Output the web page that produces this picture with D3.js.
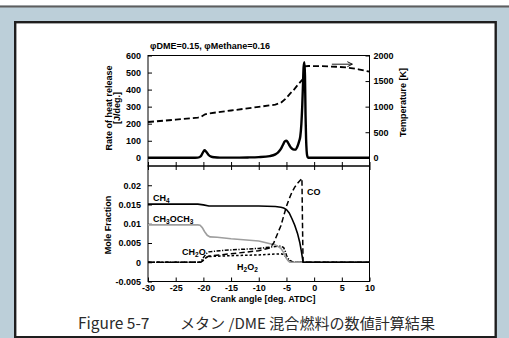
<!DOCTYPE html>
<html><head><meta charset="utf-8">
<script src="https://cdn.jsdelivr.net/npm/d3@7"></script>
<style>body{margin:0;background:#fff}svg{display:block}</style>
</head><body>
<svg id="c" width="509" height="338"></svg>
<script>
// ---------- data ----------
const title = "\u03c6DME=0.15, \u03c6Methane=0.16";
const crankTicks = [-30, -25, -20, -15, -10, -5, 0, 5, 10];
const crankTickLabels = ["-30", "-25", "-20", "-15", "-10", "-5", "0", "5", "10"];
const hrrTicks = [0, 100, 200, 300, 400, 500, 600];
const hrrTickLabels = ["0", "100", "200", "300", "400", "500", "600"];
const tempTicks = [0, 500, 1000, 1500, 2000];
const tempTickLabels = ["0", "500", "1000", "1500", "2000"];
const moleTicks = [-0.005, 0, 0.005, 0.01, 0.015, 0.02];
const moleTickLabels = ["-0.005", "0", "0.005", "0.01", "0.015", "0.02"];

// rate of heat release [J/deg.]
const hrrAngle = [-30, -22, -21, -20.5, -20.1, -19.8, -19.5, -19.1, -18.6, -18, -17, -15, -12, -10, -8, -7, -6.5, -6, -5.6, -5.3, -5.0, -4.7, -4.4, -4.1, -3.8, -3.4, -3.0, -2.7, -2.5, -2.3, -2.15, -2.0, -1.9, -1.75, -1.65, -1.55, -1.45, -1.35, -1.25, -1.1, 0, 10];
const hrrValue = [0, 0, 1, 8, 30, 44, 36, 18, 7, 3, 1, 1, 2, 4, 10, 20, 32, 52, 78, 96, 100, 88, 70, 57, 50, 48, 68, 98, 125, 200, 300, 440, 530, 560, 480, 250, 110, 40, 12, 0, 0, 0];

// temperature [K]
const tempAngle = [-30, -25, -21, -20.5, -19.7, -19, -15, -10, -7, -6, -5, -4.3, -3.7, -3, -2.2, -1.9, -1.75, -1, 1, 4, 6, 8, 10];
const tempValue = [700, 745, 785, 795, 850, 868, 925, 995, 1040, 1075, 1170, 1260, 1325, 1420, 1520, 1560, 1790, 1795, 1792, 1780, 1765, 1730, 1685];

// mole fractions
const ch4Angle = [-30, -21, -20, -19, -15, -10, -7, -6, -5.5, -5, -4.5, -4, -3.5, -3, -2.6, -2.3, -2.1, -2.0, 10];
const ch4Value = [0.0151, 0.0151, 0.0149, 0.0146, 0.0146, 0.0146, 0.0145, 0.0143, 0.0141, 0.0137, 0.0128, 0.0113, 0.0096, 0.0075, 0.0052, 0.0028, 0.0010, 0, 0];

const dmeAngle = [-30, -21, -20.6, -20.2, -19.8, -19.3, -18.8, -17.5, -15, -10, -7, -6, -5.5, -5, -4.7, -4.4, 10];
const dmeValue = [0.0097, 0.0097, 0.0096, 0.0090, 0.0080, 0.0070, 0.0066, 0.0065, 0.0061, 0.0055, 0.0045, 0.0036, 0.0025, 0.0010, 0.0004, 0, 0];

const coAngle = [-30, -20.5, -20, -19.5, -19, -15, -10, -8, -7.3, -6.5, -6, -5.5, -5, -4.5, -4, -3.5, -3, -2.5, -2.2, -2.1, -2.0, 10];
const coValue = [0, 0, 0.0005, 0.0012, 0.0016, 0.0022, 0.0030, 0.0037, 0.0050, 0.0078, 0.0095, 0.0120, 0.0145, 0.0165, 0.0182, 0.0195, 0.0205, 0.0213, 0.0218, 0.0100, 0, 0];

const ch2oAngle = [-30, -20.5, -20, -19.5, -19, -17, -15, -10, -7, -6, -5.5, -5.2, -5, -4.7, -4.4, -4, -3.5, 10];
const ch2oValue = [0, 0, 0.0012, 0.0022, 0.0027, 0.0030, 0.0032, 0.0036, 0.0041, 0.0042, 0.0038, 0.0028, 0.0018, 0.0010, 0.0005, 0.0002, 0, 0];

const h2o2Angle = [-30, -20.5, -20, -19.5, -19, -15, -10, -6, -5.5, -5, -4.7, -4.4, -4, 10];
const h2o2Value = [0, 0, 0.0006, 0.0012, 0.0015, 0.0017, 0.0019, 0.0022, 0.0020, 0.0012, 0.0006, 0.0002, 0, 0];

// ---------- drawing ----------
const svg = d3.select("#c");
const FONT = "'Liberation Sans', Arial, sans-serif";

// page background
svg.append("rect").attr("width", 509).attr("height", 338).attr("fill", "#bccfd9");
svg.append("rect").attr("width", 509).attr("height", 5.5).attr("fill", "#ffffff");
svg.append("rect").attr("y", 5.5).attr("width", 509).attr("height", 2).attr("fill", "#5e5e5e");
svg.append("rect").attr("x", 15.2).attr("y", 22.2).attr("width", 480.5).attr("height", 315)
  .attr("fill", "#fff").attr("stroke", "#1e1e1e").attr("stroke-width", 2.4);

const L = 148, R = 369.5;
const T1 = 55.5, B1 = 166, T2 = 166, B2 = 281.5;

const x = d3.scaleLinear().domain([-30, 10]).range([L, R]);
const yH = d3.scaleLinear().domain([0, 600]).range([157.8, 55.5]);
const yT = d3.scaleLinear().domain([0, 2000]).range([157.8, 55.5]);
const yM = d3.scaleLinear().domain([-0.005, 0.025]).range([B2, T2]);

function styleAxis(g) {
  g.selectAll("path").attr("stroke", "#000").attr("stroke-width", 1);
  g.selectAll("line").attr("stroke", "#000").attr("stroke-width", 1);
  g.selectAll("text").attr("font-family", FONT).attr("font-weight", "bold").attr("font-size", 9).attr("fill", "#000");
}
const lab = arr => (d, i) => arr[i];

// frames
svg.append("rect").attr("x", L).attr("y", T1).attr("width", R - L).attr("height", B1 - T1)
  .attr("fill", "none").attr("stroke", "#000").attr("stroke-width", 1);
svg.append("rect").attr("x", L).attr("y", T2).attr("width", R - L).attr("height", B2 - T2)
  .attr("fill", "none").attr("stroke", "#000").attr("stroke-width", 1);

// top panel axes
svg.append("g").attr("transform", `translate(${L},0)`)
  .call(d3.axisLeft(yH).tickValues(hrrTicks).tickFormat(lab(hrrTickLabels)).tickSize(-4).tickPadding(7).tickSizeOuter(0))
  .call(styleAxis).call(g => g.select("path").remove());
svg.append("g").attr("transform", `translate(${R},0)`)
  .call(d3.axisRight(yT).tickValues(tempTicks).tickFormat(lab(tempTickLabels)).tickSize(-4).tickPadding(4).tickSizeOuter(0))
  .call(styleAxis).call(g => g.select("path").remove());
svg.append("g").attr("transform", `translate(0,${B1})`)
  .call(d3.axisBottom(x).tickValues(crankTicks).tickSize(-4).tickFormat("").tickSizeOuter(0))
  .call(styleAxis).call(g => g.select("path").remove());

// bottom panel axes
svg.append("g").attr("transform", `translate(${L},0)`)
  .call(d3.axisLeft(yM).tickValues(moleTicks).tickSize(-4).tickPadding(7).tickSizeOuter(0)
    .tickFormat(lab(moleTickLabels)))
  .call(styleAxis).call(g => g.select("path").remove());
svg.append("g").attr("transform", `translate(0,${T2})`)
  .call(d3.axisTop(x).tickValues(crankTicks).tickSize(-4).tickFormat("").tickSizeOuter(0))
  .call(styleAxis).call(g => g.select("path").remove());
svg.append("g").attr("transform", `translate(0,${B2})`)
  .call(d3.axisBottom(x).tickValues(crankTicks).tickFormat(lab(crankTickLabels)).tickSize(-4).tickPadding(3.5).tickSizeOuter(0))
  .call(styleAxis).call(g => g.select("path").remove());

// clip
svg.append("clipPath").attr("id", "cp1").append("rect").attr("x", L).attr("y", T1 - 2).attr("width", R - L).attr("height", B1 - T1 + 2);
svg.append("clipPath").attr("id", "cp2").append("rect").attr("x", L).attr("y", T2).attr("width", R - L).attr("height", B2 - T2);

function series(a, v) { return a.map((d, i) => [d, v[i]]); }

const gTop = svg.append("g").attr("clip-path", "url(#cp1)");
gTop.append("path").datum(series(tempAngle, tempValue))
  .attr("d", d3.line().x(d => x(d[0])).y(d => yT(d[1])))
  .attr("fill", "none").attr("stroke", "#000").attr("stroke-width", 1.8).attr("stroke-dasharray", "6,3");
gTop.append("path").datum(series(hrrAngle, hrrValue))
  .attr("d", d3.line().curve(d3.curveMonotoneX).x(d => x(d[0])).y(d => yH(d[1])))
  .attr("fill", "none").attr("stroke", "#000").attr("stroke-width", 2.4).attr("stroke-linejoin", "round");

// arrow toward right axis
const arrowY = yT(1830);
svg.append("line").attr("x1", x(3.2)).attr("x2", x(6.9)).attr("y1", arrowY).attr("y2", arrowY)
  .attr("stroke", "#000").attr("stroke-width", 0.9);
svg.append("path").attr("d", `M${x(6.9) - 5},${arrowY - 2.5}L${x(6.9)},${arrowY}L${x(6.9) - 5},${arrowY + 2.5}`)
  .attr("fill", "none").attr("stroke", "#000").attr("stroke-width", 0.9);

const gBot = svg.append("g").attr("clip-path", "url(#cp2)");
const lineM = d3.line().x(d => x(d[0])).y(d => yM(d[1]));
gBot.append("path").datum(series(h2o2Angle, h2o2Value)).attr("d", lineM)
  .attr("fill", "none").attr("stroke", "#000").attr("stroke-width", 1.5).attr("stroke-dasharray", "2.5,2");
gBot.append("path").datum(series(ch2oAngle, ch2oValue)).attr("d", lineM)
  .attr("fill", "none").attr("stroke", "#000").attr("stroke-width", 1.5).attr("stroke-dasharray", "4,1.5,1.2,1.5");
gBot.append("path").datum(series(dmeAngle, dmeValue)).attr("d", lineM)
  .attr("fill", "none").attr("stroke", "#9e9e9e").attr("stroke-width", 1.6);
gBot.append("path").datum(series(coAngle, coValue)).attr("d", lineM)
  .attr("fill", "none").attr("stroke", "#000").attr("stroke-width", 1.5).attr("stroke-dasharray", "5.5,3");
gBot.append("path").datum(series(ch4Angle, ch4Value)).attr("d", lineM)
  .attr("fill", "none").attr("stroke", "#000").attr("stroke-width", 1.6);

// text helpers
function txt(xp, yp, s, opts = {}) {
  const t = svg.append("text").attr("x", xp).attr("y", yp)
    .attr("font-family", opts.family || FONT).attr("font-weight", opts.weight || "bold")
    .attr("font-size", opts.size || 9).attr("fill", opts.fill || "#000")
    .attr("text-anchor", opts.anchor || "start");
  if (opts.rotate) t.attr("transform", `rotate(-90,${xp},${yp})`);
  if (s) t.text(s);
  return t;
}
function chem(xp, yp, parts) {
  const t = txt(xp, yp, "");
  let sub = false;
  parts.forEach(p => {
    if (typeof p === "string") {
      t.append("tspan").attr("font-size", 9).attr("dy", sub ? -2 : 0).text(p);
      sub = false;
    } else {
      t.append("tspan").attr("font-size", 6.5).attr("dy", sub ? 0 : 2).text(p[0]);
      sub = true;
    }
  });
  return t;
}

txt(150, 48.5, title);
txt(111.5, 108, "Rate of heat release", { anchor: "middle", rotate: true });
txt(120, 108, "[J/deg.]", { anchor: "middle", rotate: true });
txt(406, 102.5, "Temperature [K]", { anchor: "middle", rotate: true });
txt(110.5, 225, "Mole Fraction", { anchor: "middle", rotate: true });
txt(263, 302, "Crank angle [deg. ATDC]", { anchor: "middle" });

chem(153, 201, ["CH", ["4"]]);
chem(153, 222, ["CH", ["3"], "OCH", ["3"]]);
chem(182, 255, ["CH", ["2"], "O"]);
chem(237, 270, ["H", ["2"], "O", ["2"]]);
txt(307, 194.5, "CO");

// caption
const CAP = "'Noto Sans CJK JP', 'Noto Sans', sans-serif";
txt(78, 329, "Figure 5-7", { family: CAP, weight: "normal", size: 15.5, fill: "#2a2a2a" });
txt(180, 329, "\u30e1\u30bf\u30f3 /DME \u6df7\u5408\u71c3\u6599\u306e\u6570\u5024\u8a08\u7b97\u7d50\u679c", { family: CAP, weight: "normal", size: 14.5, fill: "#2a2a2a" })
  .attr("textLength", 255).attr("lengthAdjust", "spacingAndGlyphs");
</script>
</body></html>
